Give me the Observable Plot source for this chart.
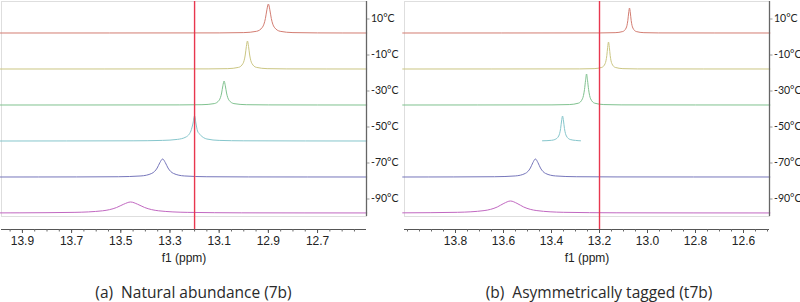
<!DOCTYPE html>
<html>
<head>
<meta charset="utf-8">
<script src="https://cdn.jsdelivr.net/npm/d3@7"></script>
<script src="https://cdn.jsdelivr.net/npm/@observablehq/plot@0.6"></script>
<style>
  html, body { margin: 0; padding: 0; background: #fff; }
  #wrap { position: relative; width: 800px; height: 302px; overflow: hidden; }
  .panel { position: absolute; top: 0; width: 400px; height: 268px; }
  .panel svg { overflow: visible; }
  .cap { position: absolute; top: 281px; font-family: "Open Sans", sans-serif; font-size: 15.5px; line-height: 22px; color: #2a2a2a; white-space: pre; text-align: center; }
</style>
</head>
<body>
<div id="wrap">
  <div class="panel" id="pa" style="left:0px"></div>
  <div class="panel" id="pb" style="left:400px"></div>
  <div class="cap" id="capA" style="left:0px;width:387px"></div>
  <div class="cap" id="capB" style="left:400px;width:398px"></div>
</div>
<script>
// ---- data ----
const temps = ["10°C", "-10°C", "-30°C", "-50°C", "-70°C", "-90°C"];
const offsets = [180, 144, 108, 72, 36, 0];          // stacking offset of each trace
const traceColors = ["#d37d72", "#cbc683", "#80c28f", "#86c6cc", "#7676bb", "#c168c1"];
const refShift = 13.2;                                 // red reference line (ppm)
const captions = ["(a)  Natural abundance (7b)", "(b)  Asymmetrically tagged (t7b)"];
const axisTitle = "f1 (ppm)";
const ticksA = [13.9, 13.7, 13.5, 13.3, 13.1, 12.9, 12.7];
const ticksB = [13.8, 13.6, 13.4, 13.2, 13.0, 12.8, 12.6];

// panel (a): [ppm, intensity]
const a10 = [[13.99,0],[13.10,0.1],[13.00,0.4],[12.948,1.7],[12.924,5.8],[12.912,14.5],[12.906,23.2],[12.90,29],[12.894,23.2],[12.888,14.5],[12.876,5.8],[12.852,1.7],[12.80,0.4],[12.70,0.1],[12.50,0]];
const am10 = [[13.99,0],[13.145,0.1],[13.065,0.35],[13.021,1.65],[13.003,5.6],[12.994,14],[12.9895,22.4],[12.985,28],[12.9805,22.4],[12.976,14],[12.967,5.6],[12.949,1.65],[12.905,0.35],[12.825,0.1],[12.50,0]];
const am30 = [[13.99,0],[13.26,0.1],[13.17,0.3],[13.12,1.4],[13.10,4.8],[13.09,12],[13.085,19.2],[13.08,24],[13.075,19.2],[13.07,12],[13.06,4.8],[13.04,1.4],[12.99,0.3],[12.90,0.1],[12.50,0]];
const am50 = [[13.99,0],[13.45,0.2],[13.33,0.6],[13.27,1.6],[13.235,4],[13.215,10],[13.207,17],[13.20,25],[13.194,17],[13.188,10],[13.176,6],[13.15,2],[13.10,0.6],[13.00,0.2],[12.50,0]];
const am70 = [[13.99,0],[13.68,0.07],[13.51,0.26],[13.418,1.06],[13.374,3.6],[13.352,9],[13.341,14.4],[13.33,18],[13.319,14.4],[13.308,9],[13.286,3.6],[13.242,1.06],[13.15,0.26],[12.98,0.07],[12.50,0]];
const am90 = [[13.99,0.1],[13.91,0.17],[13.69,0.64],[13.574,2.2],[13.517,5.5],[13.488,8.8],[13.46,11],[13.432,8.8],[13.403,5.5],[13.346,2.2],[13.23,0.64],[13.01,0.17],[12.50,0.05]];

// panel (b)
const b10 = [[14.02,0],[13.195,0.085],[13.135,0.33],[13.103,1.47],[13.089,5],[13.082,12.5],[13.0785,20],[13.075,25],[13.0715,20],[13.068,12.5],[13.061,5],[13.047,1.47],[13.015,0.33],[12.955,0.085],[12.49,0]];
const bm10 = [[14.02,0],[13.2825,0.09],[13.2225,0.36],[13.1905,1.6],[13.1765,5.4],[13.1695,13.5],[13.166,21.6],[13.1625,27],[13.159,21.6],[13.1555,13.5],[13.1485,5.4],[13.1345,1.6],[13.1025,0.36],[13.0425,0.09],[12.49,0]];
const bm30 = [[14.02,0],[13.398,0.11],[13.326,0.43],[13.288,1.8],[13.271,6.2],[13.2625,15.5],[13.258,24.8],[13.254,31],[13.25,24.8],[13.2455,15.5],[13.237,6.2],[13.22,1.8],[13.182,0.43],[13.11,0.11],[12.49,0]];
const bm50 = [[13.4375,0.2],[13.40,0.7],[13.386,1.47],[13.37,5],[13.362,12.5],[13.358,20],[13.354,25],[13.35,20],[13.346,12.5],[13.338,5],[13.322,1.47],[13.30,0.6],[13.279,0.2]];
const bm70 = [[14.02,0],[13.807,0.07],[13.637,0.27],[13.551,1.06],[13.509,3.6],[13.488,9],[13.4775,14.4],[13.467,18],[13.4565,14.4],[13.446,9],[13.425,3.6],[13.383,1.06],[13.297,0.27],[13.127,0.07],[12.49,0]];
const bm90 = [[14.02,0.15],[13.791,0.7],[13.681,2.4],[13.626,6],[13.5985,9.6],[13.571,12],[13.5435,9.6],[13.516,6],[13.461,2.4],[13.351,0.7],[13.131,0.19],[12.49,0.05]];

const tracesA = [a10, am10, am30, am50, am70, am90];
const tracesB = [b10, bm10, bm30, bm50, bm70, bm90];

// ---- drawing ----
function rows(traces) {
  const out = [];
  traces.forEach((pts, i) => pts.forEach(([ppm, h]) => out.push({temp: temps[i], ppm, y: offsets[i] + h})));
  return out;
}

function panel({traces, xDomain, majors, marginLeft, marginRight}) {
  const yDomain = [-16.5, 211.5];
  const frameBottom = -3.5;
  const labelPos = offsets.map(o => o + 14);
  const labelOf = new Map(labelPos.map((p, i) => [p, temps[i]]));
  const step = 0.05;
  const lo = Math.min(...xDomain), hi = Math.max(...xDomain);
  const minors = d3.range(Math.ceil(lo / step), Math.floor(hi / step) + 1).map(k => +(k * step).toFixed(2));
  return Plot.plot({
    width: 400, height: 268,
    marginTop: 1, marginBottom: 39, marginLeft, marginRight,
    style: {fontFamily: "'Liberation Sans', Arial, sans-serif", fontSize: "12px", color: "#222", background: "transparent"},
    x: {domain: xDomain},
    y: {domain: yDomain},
    color: {domain: temps, range: traceColors},
    marks: [
      Plot.frame({stroke: "#dedede", insetBottom: 13}),
      Plot.line(rows(traces), {x: "ppm", y: "y", z: "temp", stroke: "temp", strokeWidth: 1, curve: "monotone-x"}),
      Plot.ruleX([xDomain[1]], {y1: frameBottom, y2: yDomain[1], stroke: "#666", strokeWidth: 1.3}),
      Plot.ruleY([yDomain[0]], {stroke: "#555", strokeWidth: 1}),
      Plot.ruleX([refShift], {stroke: "#e8374f", strokeWidth: 1.4}),
      Plot.axisX({ticks: minors, tickSize: 2.5, tickFormat: () => "", label: null, stroke: "#666"}),
      Plot.axisX({ticks: majors, tickSize: 4, tickPadding: 3, tickFormat: d => d.toFixed(1), fontSize: 12,
                  label: axisTitle, labelAnchor: "center", labelOffset: 32, labelArrow: "none", stroke: "#555"}),
      Plot.axisY({anchor: "right", ticks: labelPos, tickFormat: d => labelOf.get(d), tickSize: 2.5, tickPadding: 2,
                  fontSize: 10.5, fontFamily: "Lato, sans-serif", label: null, stroke: "#999"})
    ]
  });
}

document.getElementById("pa").append(panel({traces: tracesA, xDomain: [13.985, 12.501], majors: ticksA, marginLeft: 1, marginRight: 34}));
document.getElementById("pb").append(panel({traces: tracesB, xDomain: [14.0125, 12.4917], majors: ticksB, marginLeft: 4, marginRight: 31}));
document.getElementById("capA").textContent = captions[0];
document.getElementById("capB").textContent = captions[1];
</script>
</body>
</html>
